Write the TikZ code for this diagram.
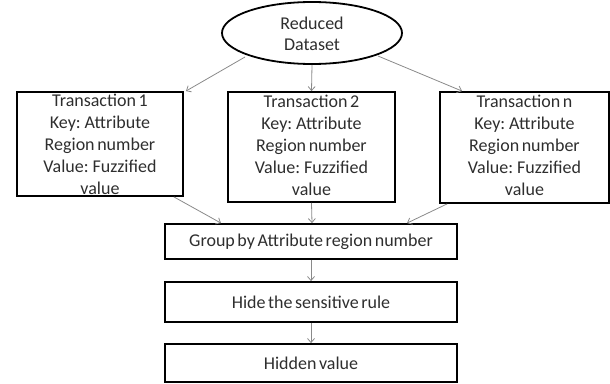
\documentclass[tikz,border=0pt]{standalone}
\usepackage{fontspec}
\setmainfont{Carlito}
\usetikzlibrary{arrows.meta,shapes.geometric}
\definecolor{inkgray}{HTML}{2E2E2E}
\definecolor{flowgray}{HTML}{8A8A8A}
\newcommand\labelfont{\fontsize{18}{22}\selectfont\spaceskip=2.6pt plus 1pt minus 0.5pt\relax}
\begin{document}
\begin{tikzpicture}[x=1pt,y=-1pt,
  txt/.style={font=\labelfont, text=inkgray, align=center, inner sep=0pt},
  frame/.style={draw=black, line width=1.8pt, rectangle, inner sep=0pt},
  flow/.style={draw=flowgray, line width=0.8pt, -{Straight Barb[length=4pt,width=7pt]}}
]
\useasboundingbox (0,0) rectangle (610,383);

% source data set
\node[draw=black, line width=1.8pt, ellipse, minimum width=180pt, minimum height=62pt, inner sep=0pt] (src) at (312,33) {};
\node[txt, font=\labelfont\fontsize{18}{21}\selectfont] at (312,34) {Reduced\\Dataset};

% transaction boxes
\node[frame, minimum width=166pt, minimum height=104pt] (t1) at (100,144) {};
\node[frame, minimum width=167pt, minimum height=110pt] (t2) at (311.5,147) {};
\node[frame, minimum width=169pt, minimum height=111pt] (tn) at (524.5,147.5) {};
\node[txt] at (100,144.5) {Transaction 1\\Key: Attribute\\Region number\\Value: Fuzzified\\value};
\node[txt] at (311.5,145.5) {Transaction 2\\Key: Attribute\\Region number\\Value: Fuzzified\\value};
\node[txt] at (524.5,145.5) {Transaction n\\Key: Attribute\\Region number\\Value: Fuzzified\\value};

% processing steps
\node[frame, minimum width=292pt, minimum height=35pt] (grp) at (311,241.5) {};
\node[txt] at (grp.center) {Group by Attribute region number};
\node[frame, minimum width=292pt, minimum height=40pt] (hide) at (311,302) {};
\node[txt] at (hide.center) {Hide the sensitive rule};
\node[frame, minimum width=292pt, minimum height=38pt] (out) at (311,363) {};
\node[txt] at (out.center) {Hidden value};

% connectors
\draw[flow] (src.center) ++(-67,24) coordinate (s1) -- ([xshift=2pt]t1.north east);
\draw[flow] (src.south) -- (t2.north);
\draw[flow] (src.center) ++(66,23) coordinate (s3) -- ([xshift=23pt]tn.north west);
\draw[flow] ([xshift=-10pt]t1.south east) -- ([xshift=-90pt]grp.north);
\draw[flow] (t2.south) -- ([xshift=1pt]grp.north);
\draw[flow] ([xshift=8pt]tn.south west) -- ([xshift=96pt]grp.north);
\draw[flow] (grp.south) -- (hide.north);
\draw[flow] (hide.south) -- (out.north);
\end{tikzpicture}
\end{document}
